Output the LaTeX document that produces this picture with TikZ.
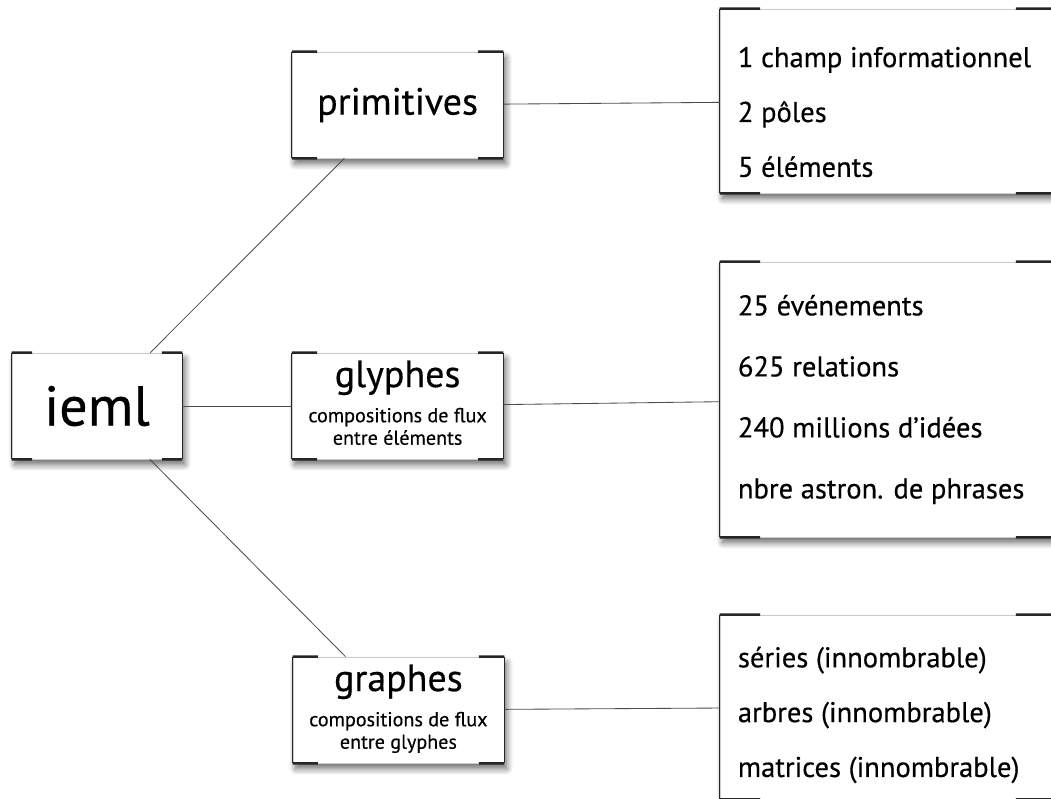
\documentclass[tikz,border=0pt]{standalone}
\usepackage{fontspec}
\setmainfont{PT Sans}[FakeBold=0.4]
\usetikzlibrary{positioning,calc,shadows.blur}

\newcommand\petit{\fontsize{14.3}{16}\selectfont}
\newcommand\soustitre[1]{\petit\begin{tabular}[t]{@{}c@{}}#1\end{tabular}}

\begin{document}
\begin{tikzpicture}[
    card/.style={rectangle, fill=white, draw=gray!40, line width=0.5pt, blur shadow={shadow xshift=0.7mm, shadow yshift=-1.4mm, shadow blur steps=8, shadow blur radius=1.6mm, shadow opacity=60}},
    root/.style={card, minimum width=4.25cm, minimum height=2.65cm, font=\fontsize{40}{44}\selectfont},
    branch/.style={card, minimum width=5.275cm, minimum height=2.65cm, align=center, font=\fontsize{27}{30}\selectfont},
    listbox/.style={card, minimum width=8.4cm},
    items/.style={anchor=west, align=left, inner sep=0pt},
    link/.style={draw=black!70, line width=0.6pt},
    side/.style={black!85, line width=0.9pt},
    tick/.style={black!85, line width=1.8pt}
]

\useasboundingbox (0,0) rectangle (26.275,19.95);
\clip (0,0) rectangle (26.275,19.95);

% Root
\node[root] (ieml) at (2.425,9.8) {ieml};

% Middle column
\node[branch] (prim) at (9.94,17.325) {primitives};
\node[branch] (glyph) at (9.94,9.8) {glyphes\\[-5pt]\soustitre{compositions de flux\\entre éléments}};
\node[branch] (graph) at (9.96,2.2) {graphes\\[-5pt]\soustitre{compositions de flux\\entre glyphes}};

% Right column
\node[listbox, minimum height=4.6cm] (champ) at (22.2,17.425) {};
\node[listbox, minimum height=6.875cm] (evt) at (22.2,9.9625) {};
\node[listbox, minimum height=4.6cm] (ser) at (22.2,2.275) {};

\node[items, font=\fontsize{20.3}{39}\selectfont] (champtxt) at ([xshift=0.45cm, yshift=-0.275cm]champ.west)
    {1 champ informationnel\\2 pôles\\5 éléments};
\node[items, font=\fontsize{20.3}{43.4}\selectfont] (evttxt) at ([xshift=0.45cm]evt.west)
    {25 événements\\625 relations\\240 millions d'idées\\nbre astron. de phrases};
\node[items, font=\fontsize{20.3}{39}\selectfont] (sertxt) at ([xshift=0.45cm, yshift=-0.2cm]ser.west)
    {séries (innombrable)\\arbres (innombrable)\\matrices (innombrable)};

% Box edges and corner marks
\foreach \n in {ieml,prim,glyph,graph,champ,evt,ser} {
    \draw[side] (\n.north west) -- (\n.south west) (\n.north east) -- (\n.south east);
    \draw[tick] (\n.north west) -- ($(\n.north west)!0.12!(\n.north east)$)
                (\n.north east) -- ($(\n.north east)!0.12!(\n.north west)$)
                (\n.south west) -- ($(\n.south west)!0.12!(\n.south east)$)
                (\n.south east) -- ($(\n.south east)!0.12!(\n.south west)$);
}

% Links
\draw[link] (ieml) -- (prim);
\draw[link] (ieml) -- (glyph);
\draw[link] (ieml) -- (graph);
\draw[link] (prim) -- (champ);
\draw[link] (glyph) -- (evt);
\draw[link] (graph) -- (ser);

\end{tikzpicture}
\end{document}
